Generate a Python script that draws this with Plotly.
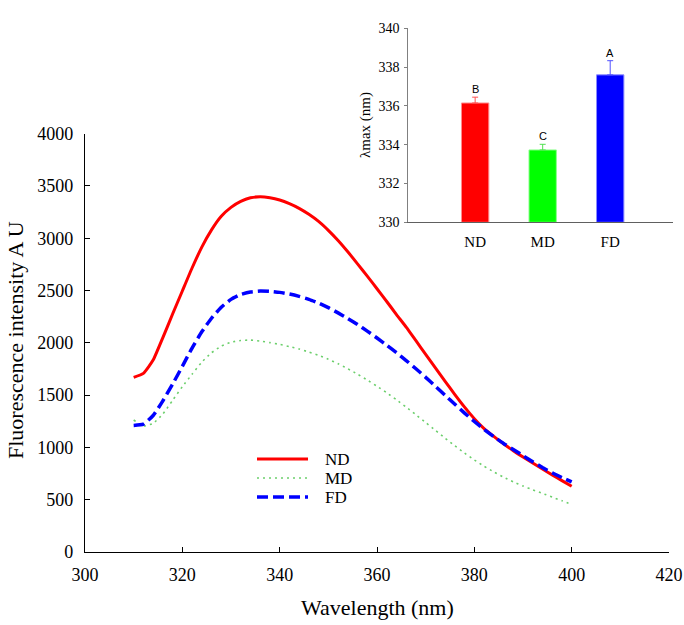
import plotly.graph_objects as go

# ---------------- data ----------------
wavelength = list(range(310, 401, 2))
nd = [1670, 1708, 1835, 2050, 2275, 2495, 2715, 2915, 3080, 3210, 3295, 3352, 3386, 3397,
      3387, 3365, 3330, 3285, 3228, 3160, 3075, 2978, 2870, 2755, 2637, 2517, 2395, 2270,
      2150, 2020, 1890, 1760, 1632, 1505, 1385, 1275, 1180, 1105, 1035, 968, 908, 850,
      793, 737, 682, 628]
md = [1262, 1205, 1230, 1320, 1450, 1580, 1700, 1815, 1905, 1968, 2005, 2022, 2026, 2016,
      2002, 1985, 1964, 1940, 1912, 1880, 1843, 1800, 1752, 1700, 1644, 1585, 1522, 1455,
      1385, 1312, 1238, 1163, 1088, 1015, 945, 880, 820, 766, 716, 671, 631, 595,
      560, 525, 490, 456]
fd = [1210, 1222, 1305, 1445, 1605, 1775, 1950, 2105, 2235, 2340, 2415, 2462, 2486, 2495,
      2492, 2482, 2466, 2444, 2416, 2380, 2336, 2286, 2232, 2174, 2112, 2046, 1977, 1905,
      1830, 1752, 1670, 1585, 1498, 1412, 1328, 1248, 1172, 1102, 1038, 980, 921, 863,
      808, 757, 712, 670]

groups = ["ND", "MD", "FD"]
lam_max = [336.15, 333.73, 337.60]
lam_err = [0.30, 0.29, 0.73]
letters = ["B", "C", "A"]

x_ticks = list(range(300, 421, 20))
y_ticks = list(range(0, 4001, 500))
inset_ticks = list(range(330, 341, 2))

# ---------------- styles ----------------
W, H = 684, 625
def px(x):
    return x / W
def py(y):
    return 1 - y / H

SERIF = "Liberation Serif, Times New Roman, serif"
SANS = "Liberation Sans, Arial, sans-serif"

line_styles = {
    "ND": dict(color="#FF0000", width=3, dash="solid"),
    "MD": dict(color="#6CCF6C", width=1.6, dash="2px,4px"),
    "FD": dict(color="#0000FF", width=3.5, dash="11px,5px"),
}
bar_fill = ["#FF0000", "#00FF00", "#0000FF"]
bar_edge = ["#FF8C8C", "#8CFF8C", "#8C8CFF"]
err_col = ["#FF5050", "#50E050", "#5050FF"]

fig = go.Figure()

series = {"ND": nd, "MD": md, "FD": fd}
for name, vals in series.items():
    fig.add_trace(go.Scatter(
        x=wavelength, y=vals, mode="lines", name=name,
        line=dict(shape="spline", smoothing=0.5, **line_styles[name]),
        showlegend=False, xaxis="x", yaxis="y",
    ))

for i, g in enumerate(groups):
    fig.add_trace(go.Bar(
        x=[g], y=[lam_max[i] - 330], base=330, width=0.405,
        marker=dict(color=bar_fill[i], line=dict(color=bar_edge[i], width=1)),
        error_y=dict(type="data", array=[lam_err[i]], arrayminus=[0], symmetric=False,
                     color=err_col[i], thickness=1, width=3),
        showlegend=False, xaxis="x2", yaxis="y2",
    ))

annotations = []
for i, g in enumerate(groups):
    annotations.append(dict(
        x=g, y=lam_max[i] + lam_err[i] + 0.42, xref="x2", yref="y2",
        text=letters[i], showarrow=False, xanchor="center", yanchor="middle",
        font=dict(family=SANS, size=11, color="black"),
    ))

# axis titles
annotations.append(dict(x=px(377), y=py(607), xref="paper", yref="paper",
                        text="Wavelength (nm)", showarrow=False,
                        xanchor="center", yanchor="middle",
                        font=dict(family=SERIF, size=22, color="black")))
annotations.append(dict(x=px(15), y=py(340), xref="paper", yref="paper",
                        text="Fluorescence intensity A U", showarrow=False, textangle=-90,
                        xanchor="center", yanchor="middle",
                        font=dict(family=SERIF, size=22, color="black")))
annotations.append(dict(x=px(366), y=py(125), xref="paper", yref="paper",
                        text="λmax (nm)", showarrow=False, textangle=-90,
                        xanchor="center", yanchor="middle",
                        font=dict(family=SERIF, size=15, color="black")))

# manual legend (line samples + labels)
shapes = []
leg_y = [459, 478, 497]
for k, name in enumerate(groups):
    st = line_styles[name]
    shapes.append(dict(type="line", xref="paper", yref="paper",
                       x0=px(257), x1=px(308), y0=py(leg_y[k]), y1=py(leg_y[k]),
                       line=dict(color=st["color"], width=st["width"], dash=st["dash"])))
    annotations.append(dict(x=px(323), y=py(leg_y[k]), xref="paper", yref="paper",
                            text=name, showarrow=False, xanchor="left", yanchor="middle",
                            font=dict(family=SERIF, size=17, color="black")))

fig.update_layout(
    template="none",
    width=W, height=H,
    margin=dict(l=0, r=0, t=0, b=0, autoexpand=False),
    paper_bgcolor="white", plot_bgcolor="rgba(0,0,0,0)",
    barmode="overlay",
    showlegend=False,
    font=dict(family=SERIF, color="black"),
    xaxis=dict(
        domain=[px(85), px(669)], range=[300, 420], tickvals=x_ticks,
        showline=True, linecolor="black", linewidth=1.2,
        ticks="inside", ticklen=5, tickwidth=1, tickcolor="black",
        showgrid=False, zeroline=False, anchor="y", automargin=False,
        tickfont=dict(family=SERIF, size=18, color="black"), ticklabelstandoff=6,
    ),
    yaxis=dict(
        domain=[py(552), py(133.6)], range=[0, 4000], tickvals=y_ticks,
        showline=True, linecolor="black", linewidth=1.2,
        ticks="inside", ticklen=5, tickwidth=1, tickcolor="black",
        showgrid=False, zeroline=False, anchor="x", automargin=False,
        tickfont=dict(family=SERIF, size=18, color="black"), ticklabelstandoff=7,
    ),
    xaxis2=dict(
        domain=[px(408.3), px(673)], range=[-0.99, 2.93], type="category",
        categoryorder="array", categoryarray=groups,
        showline=True, linecolor="#606060", linewidth=1,
        ticks="", showgrid=False, zeroline=False, anchor="y2", automargin=False,
        tickfont=dict(family=SERIF, size=15, color="black"), ticklabelstandoff=6,
    ),
    yaxis2=dict(
        domain=[py(222.3), py(28.3)], range=[330, 340], tickvals=inset_ticks,
        showline=True, linecolor="#808080", linewidth=1,
        ticks="outside", ticklen=3, tickwidth=1, tickcolor="#808080",
        showgrid=False, zeroline=False, anchor="x2", automargin=False,
        tickfont=dict(family=SERIF, size=14, color="black"), ticklabelstandoff=2,
    ),
    annotations=annotations,
    shapes=shapes,
)

# remove the page's default 8px body margin so the figure sits at the window's corner
fig.write_html(
    "out.html",
    config={"displayModeBar": False},
    post_script="document.body.style.margin='0';document.body.style.overflow='hidden';",
)
